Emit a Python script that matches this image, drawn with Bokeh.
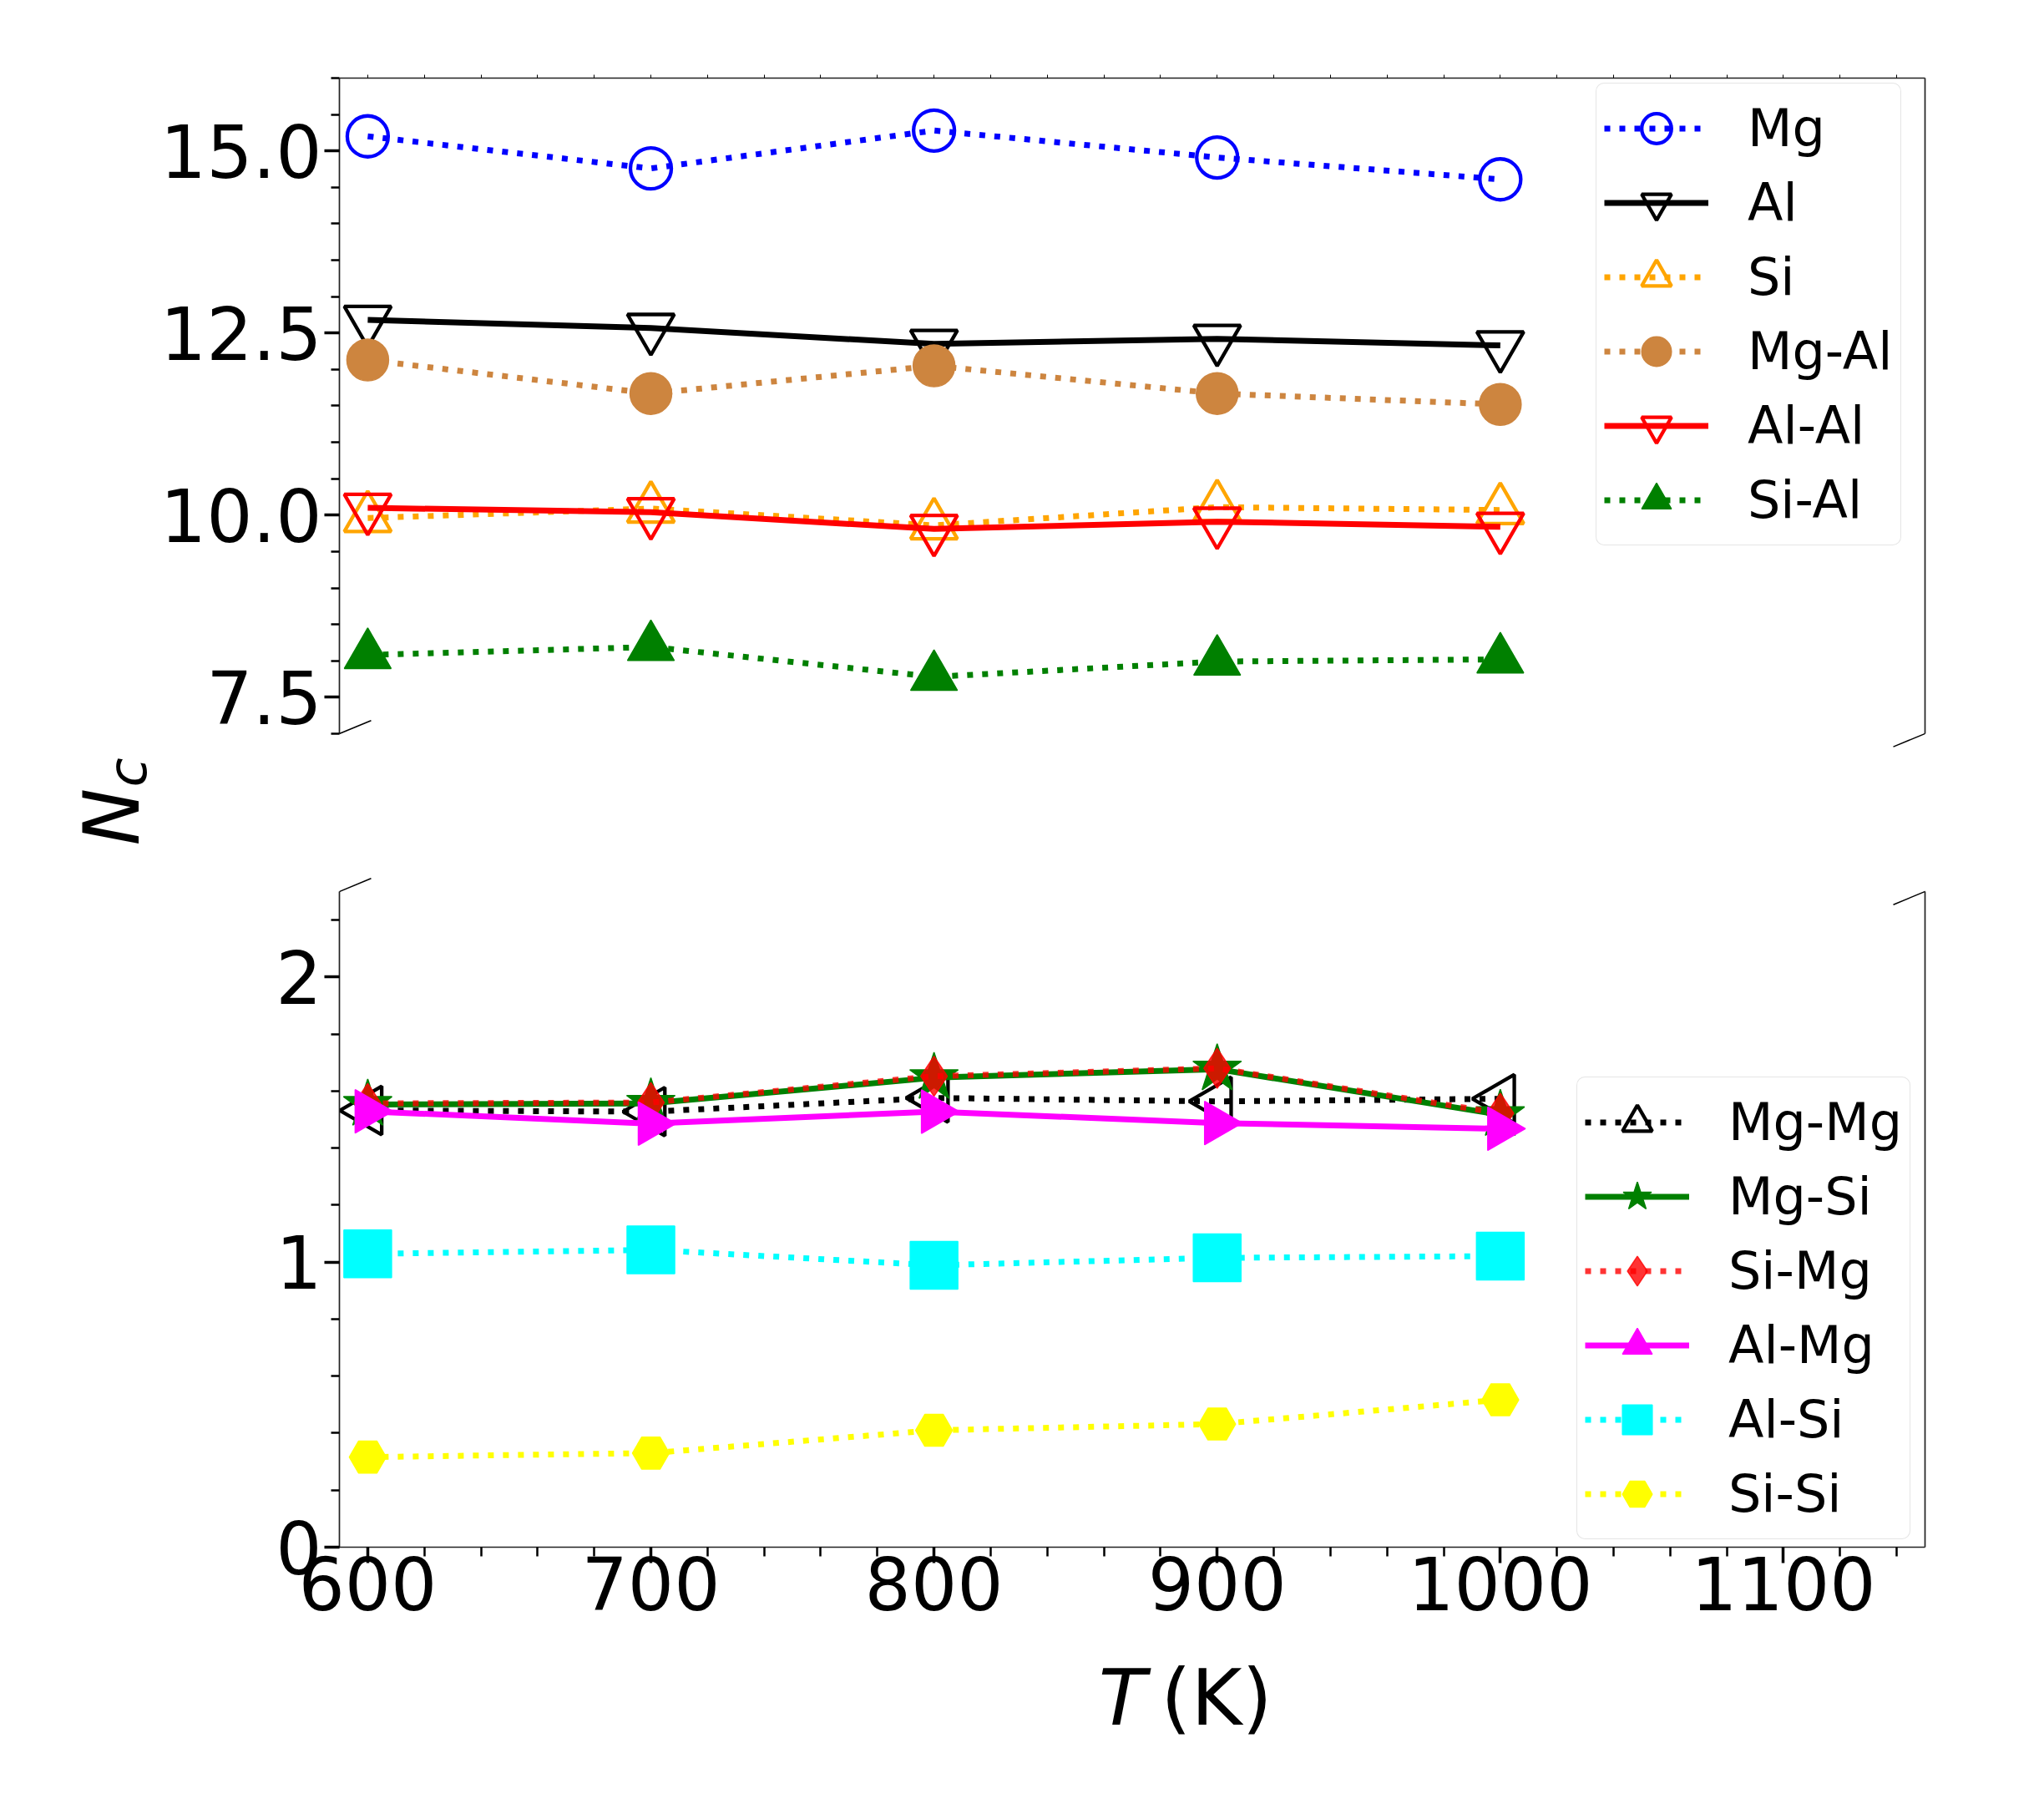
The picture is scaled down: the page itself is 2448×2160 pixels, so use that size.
import math
from bokeh.plotting import figure
from bokeh.layouts import column, row
from bokeh.models import (Range1d, LinearAxis, SingleIntervalTicker, FixedTicker,
                          PrintfTickFormatter, Label, Arrow)
from bokeh.embed import file_html
from bokeh.resources import INLINE

# ---------------- data ----------------
T = [600, 700, 800, 900, 1000]

mg = [15.20, 14.76, 15.28, 14.91, 14.61]
al = [12.68, 12.57, 12.35, 12.42, 12.33]
si = [9.96, 10.09, 9.86, 10.11, 10.07]
mg_al = [12.13, 11.67, 12.05, 11.67, 11.52]
al_al = [10.10, 10.04, 9.81, 9.91, 9.84]
si_al = [8.08, 8.19, 7.78, 7.99, 8.02]

mg_mg = [1.532, 1.528, 1.576, 1.564, 1.573]
mg_si = [1.553, 1.557, 1.647, 1.677, 1.517]
si_mg = [1.557, 1.560, 1.652, 1.680, 1.522]
al_mg = [1.529, 1.486, 1.528, 1.488, 1.468]
al_si = [1.029, 1.043, 0.989, 1.015, 1.021]
si_si = [0.316, 0.330, 0.410, 0.432, 0.517]

x_lim = (590, 1150)
top_lim = (7, 16)
bot_lim = (0, 2.3)

FONT = "DejaVu Sans"
DOT = "7 11"
LW = 7

YLAB_W = 188
MAIN_W = 2400 - YLAB_W

# ---------------- helpers ----------------
def spine_axis(ax):
    ax.axis_line_color = "#222222"
    ax.axis_line_width = 1.7
    ax.major_tick_line_color = "black"
    ax.minor_tick_line_color = "black"
    ax.major_tick_in = 0
    ax.minor_tick_in = 0
    ax.major_label_text_font = FONT

def major_axis(ax):
    spine_axis(ax)
    ax.major_tick_out = 18
    ax.minor_tick_out = 10
    ax.major_tick_line_width = 3.5
    ax.minor_tick_line_width = 2.5
    ax.major_label_text_font_size = "87px"
    ax.major_label_text_color = "black"

def blank_fig(w, h):
    p = figure(width=w, height=h, x_range=Range1d(0, w), y_range=Range1d(0, h),
               title=None, output_backend="svg", toolbar_location=None,
               x_axis_location=None, y_axis_location=None, min_border=0)
    p.outline_line_color = None
    p.xgrid.grid_line_color = None
    p.ygrid.grid_line_color = None
    return p

def base_fig(height, y_range, b_top, b_bottom, xr, bounds):
    p = figure(width=MAIN_W, height=height, x_range=xr, y_range=Range1d(*y_range),
               title=None, output_backend="svg", toolbar_location=None,
               x_axis_location=None, y_axis_location=None,
               min_border_left=404 - YLAB_W, min_border_right=95,
               min_border_top=b_top, min_border_bottom=b_bottom)
    p.outline_line_color = None
    p.xgrid.grid_line_color = None
    p.ygrid.grid_line_color = None
    r = LinearAxis(ticker=FixedTicker(ticks=[]), bounds=bounds)
    spine_axis(r)
    r.major_tick_out = 0
    r.minor_tick_out = 0
    p.add_layout(r, "right")
    return p

def series(p, x, y, label, color, dash, marker, filled, size, angle=0.0, alpha=1.0, mlw=4.3):
    p.line(x, y, line_color=color, line_width=LW, line_dash=dash, line_alpha=alpha,
           legend_label=label)
    p.scatter(x, y, marker=marker, size=size, angle=angle,
              line_color=color, line_width=(mlw if not filled else 1.5), line_alpha=alpha,
              fill_color=(color if filled else None), fill_alpha=alpha,
              legend_label=label)

def style_legend(p, loc):
    leg = p.legend[0]
    leg.location = loc
    leg.label_text_font = FONT
    leg.label_text_font_size = "62px"
    leg.label_text_color = "black"
    leg.glyph_width = 125
    leg.glyph_height = 89
    leg.spacing = 0
    leg.padding = 9
    leg.margin = 0
    leg.label_standoff = 47
    leg.border_line_color = "#cccccc"
    leg.border_line_width = 1.5
    leg.background_fill_color = "white"
    leg.background_fill_alpha = 0.8
    try:
        leg.border_radius = 10
    except Exception:
        pass

def break_marks(p, y_edge, ylim):
    dx = 0.02 * (x_lim[1] - x_lim[0])
    dy = 0.02 * (ylim[1] - ylim[0])
    for xe in x_lim:
        p.add_layout(Arrow(end=None, start=None, x_start=xe - dx, y_start=y_edge - dy,
                           x_end=xe + dx, y_end=y_edge + dy,
                           line_color="black", line_width=1.5))

xr = Range1d(*x_lim)

# ---------------- top panel ----------------
TOP_H = 1032
top_ext = 0.23                     # frame reaches a little into the gap (axes are bounded)
top = base_fig(TOP_H, (top_lim[0] - top_ext, top_lim[1]), 93, 134, xr, top_lim)

ly = LinearAxis(ticker=SingleIntervalTicker(interval=2.5, num_minor_ticks=5),
                formatter=PrintfTickFormatter(format="%.1f"), bounds=top_lim)
major_axis(ly)
ly.major_label_standoff = 3
top.add_layout(ly, "left")

ax_top = LinearAxis(ticker=FixedTicker(ticks=[], minor_ticks=list(range(600, x_lim[1], 20))))
spine_axis(ax_top)
ax_top.major_tick_out = 0
ax_top.minor_tick_out = 4
ax_top.minor_tick_line_width = 1
top.add_layout(ax_top, "above")

series(top, T, mg, "Mg", "blue", DOT, "circle", False, 49)
series(top, T, al, "Al", "black", "solid", "inverted_triangle", False, 56)
series(top, T, si, "Si", "orange", DOT, "triangle", False, 56)
series(top, T, mg_al, "Mg-Al", "#cd853f", DOT, "circle", True, 50)
series(top, T, al_al, "Al-Al", "red", "solid", "inverted_triangle", False, 56)
series(top, T, si_al, "Si-Al", "green", DOT, "triangle", True, 56)

style_legend(top, (1505, 245))
break_marks(top, top_lim[0], top_lim)

# ---------------- bottom panel ----------------
BOT_H = 932
bot_ext = 0.0586
bot = base_fig(BOT_H, (bot_lim[0], bot_lim[1] + bot_ext), 15, 112, xr, bot_lim)

ly2 = LinearAxis(ticker=SingleIntervalTicker(interval=1, num_minor_ticks=5), bounds=bot_lim)
major_axis(ly2)
ly2.major_label_standoff = 3
bot.add_layout(ly2, "left")

ax_bot = LinearAxis(ticker=SingleIntervalTicker(interval=100, num_minor_ticks=5))
major_axis(ax_bot)
ax_bot.major_tick_out = 19
ax_bot.minor_tick_out = 11
ax_bot.major_label_standoff = -8
bot.add_layout(ax_bot, "below")

series(bot, T, mg_mg, "Mg-Mg", "black", DOT, "triangle", False, 58, angle=math.pi / 2)
series(bot, T, mg_si, "Mg-Si", "green", "solid", "star", True, 61)
series(bot, T, si_mg, "Si-Mg", "red", DOT, "diamond", True, 48, alpha=0.8)
series(bot, T, al_mg, "Al-Mg", "magenta", "solid", "triangle", True, 52, angle=-math.pi / 2)
series(bot, T, al_si, "Al-Si", "cyan", DOT, "square", True, 57)
series(bot, T, si_si, "Si-Si", "yellow", DOT, "hex", True, 44)

style_legend(bot, (1482, 9))
break_marks(bot, bot_lim[1], bot_lim)

# ---------------- axis titles ----------------
XLAB_H = 180
xlab = blank_fig(MAIN_W, XLAB_H)
xlab.add_layout(Label(x=1065 + 182 - YLAB_W, y=112, text="T", text_font=FONT,
                      text_font_style="italic", text_font_size="93px", text_align="left",
                      text_baseline="alphabetic", text_color="black"))
xlab.add_layout(Label(x=1152 + 182 - YLAB_W, y=112, text="(K)", text_font=FONT,
                      text_font_size="93px", text_align="left", text_baseline="alphabetic",
                      text_color="black"))

TOTAL_H = TOP_H + BOT_H + XLAB_H
ylab = blank_fig(YLAB_W, TOTAL_H)
ylab.add_layout(Label(x=134, y=1132, text="N", angle=math.pi / 2, text_font=FONT,
                      text_font_style="italic", text_font_size="92px", text_align="left",
                      text_baseline="alphabetic", text_color="black"))
ylab.add_layout(Label(x=152, y=1202, text="c", angle=math.pi / 2, text_font=FONT,
                      text_font_style="italic", text_font_size="64px", text_align="left",
                      text_baseline="alphabetic", text_color="black"))

layout = row(ylab, column(top, bot, xlab, spacing=0), spacing=0)
open("out.html", "w").write(file_html(layout, INLINE))
